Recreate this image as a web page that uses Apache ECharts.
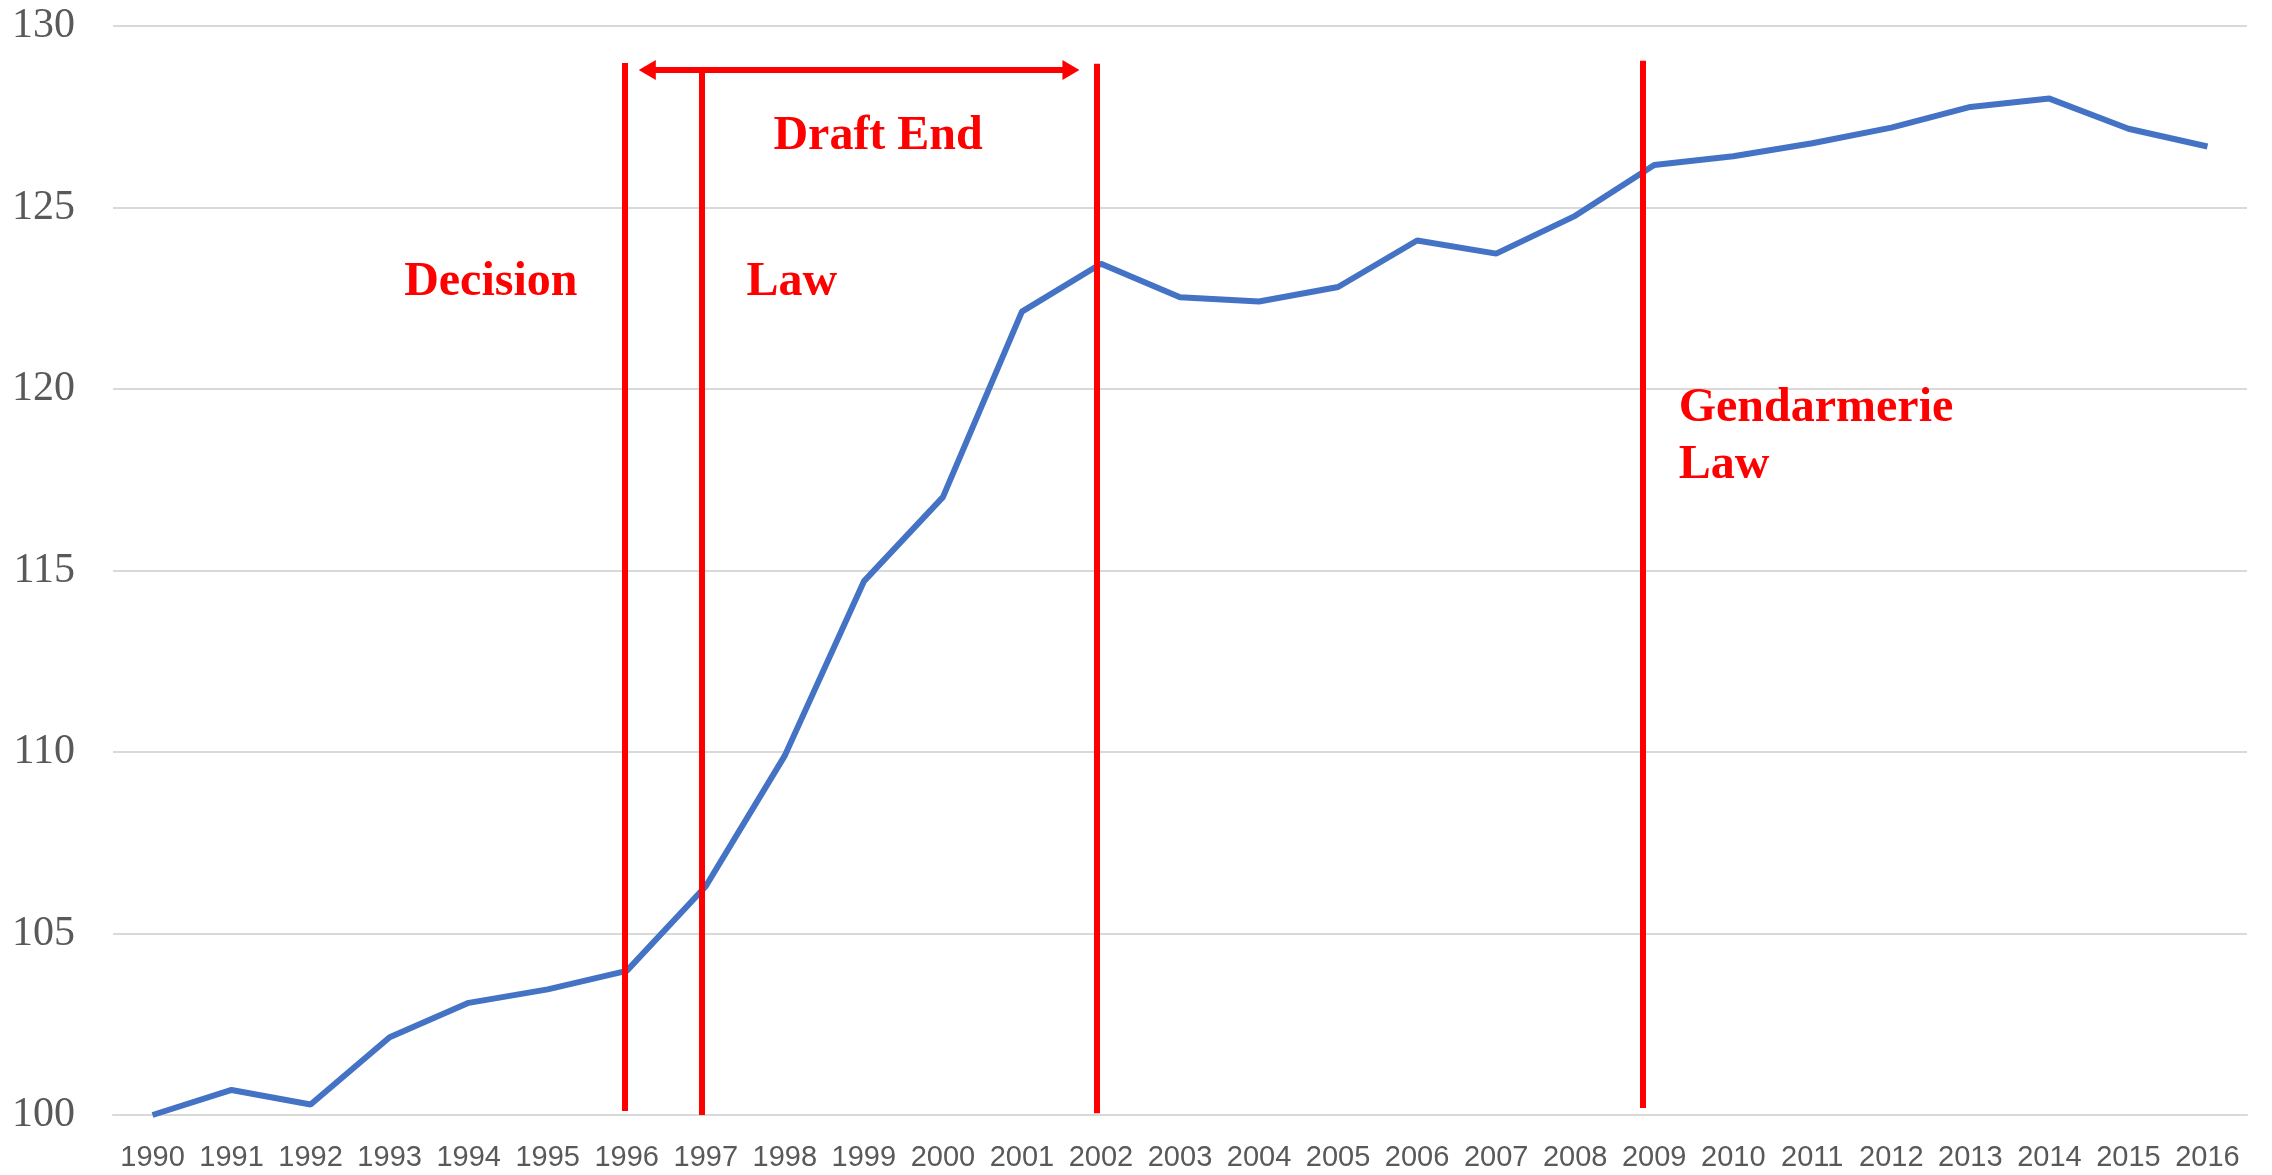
<!DOCTYPE html>
<html>
<head>
<meta charset="utf-8">
<title>Index 1990-2016</title>
<script src="https://cdn.jsdelivr.net/npm/echarts@6/dist/echarts.min.js"></script>
<style>
html, body { margin: 0; padding: 0; background: #fff; }
#chart { width: 2272px; height: 1175px; }
</style>
</head>
<body>
<div id="chart"></div>
<script>
// years on the x axis
var years = ['1990', '1991', '1992', '1993', '1994', '1995', '1996', '1997', '1998', '1999',
	'2000', '2001', '2002', '2003', '2004', '2005', '2006', '2007', '2008', '2009',
	'2010', '2011', '2012', '2013', '2014', '2015', '2016'];
// index values
var values = [100, 100.69, 100.29, 102.14, 103.09, 103.46, 103.97, 106.3, 109.9, 114.7,
	117.02, 122.13, 123.45, 122.53, 122.41, 122.81, 124.09, 123.73, 124.77, 126.17,
	126.41, 126.77, 127.2, 127.77, 128.0, 127.17, 126.68];

// red event lines (x as year index, y as value)
var eventX = [5.98, 6.95, 11.95, 18.85];
var eventTop = [128.98, 128.79, 128.96, 129.04];
var eventBottom = [100.11, 100, 100.05, 100.19];

// double arrow above the draft period (centres of the arrow heads)
var arrowX = [6.26, 11.62];
var arrowY = 128.79;

// red text labels
var noteNames = ['Decision', 'Law', 'Draft End'];
var noteX = [4.28, 8.09, 9.18];
var noteY = [122.92, 122.92, 126.96];
var gendName = 'Gendarmerie\nLaw';
var gendX = 19.31;
var gendY = 118.68;

var red = '#ff0000';
var noteFont = {
	color: red,
	fontFamily: '"Liberation Serif", "Times New Roman", serif',
	fontWeight: 'bold',
	fontSize: 48
};

function buildEventLines() {
	var lines = [];
	for (var i = 0; i < eventX.length; i++) {
		lines.push([
			{ coord: [eventX[i], eventBottom[i]], symbol: 'none' },
			{ coord: [eventX[i], eventTop[i]], symbol: 'none' }
		]);
	}
	// arrow heads as plain triangles
	lines.push([
		{ coord: [arrowX[0], arrowY], symbol: 'triangle', symbolSize: [20, 17] },
		{ coord: [arrowX[1], arrowY], symbol: 'triangle', symbolSize: [20, 17] }
	]);
	return lines;
}

function buildNotes() {
	var pts = [];
	for (var i = 0; i < noteNames.length; i++) {
		pts.push({
			name: noteNames[i],
			coord: [noteX[i], noteY[i]],
			label: Object.assign({ show: true, position: 'inside', formatter: '{b}' }, noteFont)
		});
	}
	pts.push({
		name: gendName,
		coord: [gendX, gendY],
		label: Object.assign({ show: true, position: 'right', distance: 0, align: 'left',
			lineHeight: 57, formatter: '{b}' }, noteFont)
	});
	return pts;
}

var myChart = echarts.init(document.getElementById('chart'));
var option = {
	animation: false,
	backgroundColor: '#ffffff',
	grid: {
		left: 113,
		right: 25,
		top: 26,
		bottom: 60
	},
	xAxis: [{
		type: 'category',
		data: years,
		boundaryGap: true,
		axisLine: { show: true, lineStyle: { color: '#d9d9d9', width: 2 } },
		axisTick: { show: false },
		axisLabel: {
			color: '#595959',
			fontFamily: '"Liberation Sans", Arial, sans-serif',
			fontSize: 29,
			margin: 28,
			interval: 0
		}
	}, {
		// hidden helper axis so the annotations can sit between years
		type: 'value',
		min: -0.5,
		max: 26.5,
		show: false
	}],
	yAxis: {
		type: 'value',
		min: 100,
		max: 130,
		interval: 5,
		axisLine: { show: false },
		axisTick: { show: false },
		axisLabel: {
			color: '#595959',
			fontFamily: '"Liberation Serif", "Times New Roman", serif',
			fontSize: 42,
			margin: 38
		},
		splitLine: { lineStyle: { color: '#d9d9d9', width: 2 } }
	},
	series: [{
		name: 'index',
		type: 'line',
		xAxisIndex: 0,
		data: values,
		symbol: 'none',
		lineStyle: { color: '#4472c4', width: 6 },
		z: 2
	}, {
		name: 'events',
		type: 'line',
		xAxisIndex: 1,
		data: [],
		z: 5,
		markLine: {
			silent: true,
			symbol: 'none',
			label: { show: false },
			lineStyle: { color: red, width: 6, type: 'solid' },
			data: buildEventLines()
		},
		markPoint: {
			silent: true,
			symbol: 'circle',
			symbolSize: 0,
			data: buildNotes()
		}
	}]
};
myChart.setOption(option);
</script>
</body>
</html>
